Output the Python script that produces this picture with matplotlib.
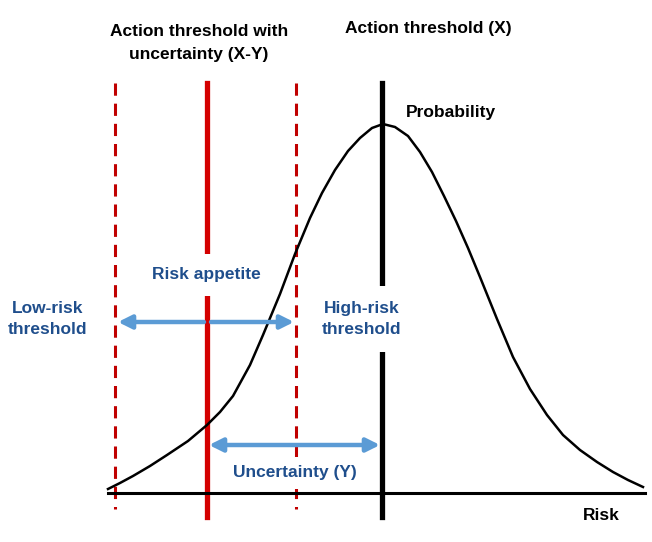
import matplotlib
matplotlib.use("Agg")
import matplotlib.pyplot as plt
from matplotlib import font_manager

# pick a narrow bold face if there is one
names = set(f.name for f in font_manager.fontManager.ttflist)
FONT = "DejaVu Sans"
for name in ["Liberation Sans Narrow", "Arial Narrow", "Liberation Sans", "Arial"]:
    if name in names:
        FONT = name
        break
plt.rcParams["font.family"] = FONT

# probability curve (risk, probability)
risk = [108, 120, 133, 150, 167, 188, 207, 220, 233, 250, 263, 280,
        295, 310, 322, 335, 348, 360, 372, 383, 395, 408, 420, 432,
        444, 456, 468, 480, 497, 513, 530, 547, 563, 580, 597, 613,
        628, 643]
prob = [4, 10, 17, 27, 38, 52, 68, 81, 97, 128, 158, 199,
        239, 275, 300, 323, 342, 355, 365, 369, 366, 357, 341, 321,
        297, 272, 245, 216, 174, 136, 104, 78, 58, 43, 31, 21,
        13, 6]

axis_start, axis_end = 108, 645
low_thr = 115          # low-risk threshold (dashed)
act_unc = 207          # action threshold with uncertainty (X-Y)
high_thr = 296         # high-risk threshold (dashed)
act_thr = 382          # action threshold (X)
line_top = 410
dash_bottom = -16
solid_bottom = -24

BLUE_TXT = "#1f4e8c"
BLUE_ARR = "#5b9bd5"
RED = "#d40000"
DRED = "#c00000"

fig = plt.figure(figsize=(6.52, 5.42), dpi=100)
ax = fig.add_axes([0, 0, 1, 1])
ax.set_xlim(0, 652)
ax.set_ylim(-49, 493)
ax.axis("off")

# baseline and curve
ax.plot([axis_start, axis_end], [0, 0], color="black", lw=2.2, zorder=2)
ax.plot(risk, prob, color="black", lw=1.8, zorder=2, solid_joinstyle="round")

for x in [low_thr, high_thr]:
    ax.plot([x, x], [line_top, dash_bottom], color=DRED, lw=2.2,
            linestyle=(0, (4.0, 2.6)), zorder=1)
ax.plot([act_unc, act_unc], [line_top, solid_bottom], color=RED, lw=3.8, zorder=1)
ax.plot([act_thr, act_thr], [line_top, solid_bottom], color="black", lw=3.8, zorder=1)

arrow = dict(arrowstyle="-|>", color=BLUE_ARR, lw=3.2, mutation_scale=20,
             shrinkA=0, shrinkB=0)
ax.annotate("", xy=(low_thr + 3, 171), xytext=(act_unc - 3, 171), arrowprops=arrow, zorder=3)
ax.annotate("", xy=(high_thr - 2, 171), xytext=(act_unc + 4, 171), arrowprops=arrow, zorder=3)
ax.annotate("", xy=(act_thr - 2, 48), xytext=(act_unc + 2, 48),
            arrowprops=dict(arrowstyle="<|-|>", color=BLUE_ARR, lw=3.2,
                            mutation_scale=20, shrinkA=0, shrinkB=0), zorder=3)

fs = 12.5
ax.text(199, 450, "Action threshold with\nuncertainty (X-Y)", ha="center", va="center",
        fontsize=fs, fontweight="bold", linespacing=1.6)
ax.text(428, 464, "Action threshold (X)", ha="center", va="center",
        fontsize=fs, fontweight="bold")
ax.text(406, 381, "Probability", ha="left", va="center", fontsize=fs, fontweight="bold")
ax.text(206, 218, "Risk appetite", ha="center", va="center", fontsize=fs,
        fontweight="bold", color=BLUE_TXT,
        bbox=dict(facecolor="white", edgecolor="none", pad=10), zorder=4)
ax.text(48, 174, "Low-risk\nthreshold", ha="center", va="center", fontsize=fs,
        fontweight="bold", color=BLUE_TXT, linespacing=1.45)
ax.text(362, 174, "High-risk\nthreshold", ha="center", va="center", fontsize=fs,
        fontweight="bold", color=BLUE_TXT, linespacing=1.45,
        bbox=dict(facecolor="white", edgecolor="none", pad=11), zorder=4)
ax.text(295, 20, "Uncertainty (Y)", ha="center", va="center", fontsize=fs,
        fontweight="bold", color=BLUE_TXT,
        bbox=dict(facecolor="white", edgecolor="none", pad=6), zorder=4)
ax.text(601, -23, "Risk", ha="center", va="center", fontsize=fs, fontweight="bold")

fig.savefig("out.png", dpi=100)
